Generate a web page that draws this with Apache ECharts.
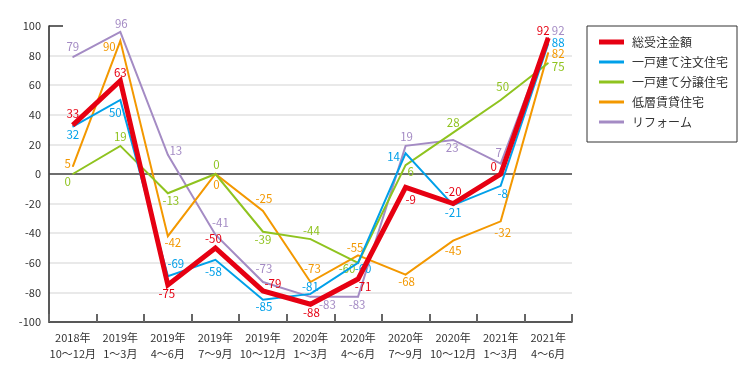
<!DOCTYPE html>
<html>
<head>
<meta charset="utf-8">
<script src="https://cdn.jsdelivr.net/npm/echarts@6/dist/echarts.min.js"></script>
<style>html,body{margin:0;padding:0;background:#fff;}#c{width:750px;height:380px;}</style>
</head>
<body>
<div id="c"></div>
<script>
const categories = ['2018年\n10〜12月','2019年\n1〜3月','2019年\n4〜6月','2019年\n7〜9月','2019年\n10〜12月','2020年\n1〜3月','2020年\n4〜6月','2020年\n7〜9月','2020年\n10〜12月','2021年\n1〜3月','2021年\n4〜6月'];
const seriesNames = ['総受注金額','一戸建て注文住宅','一戸建て分譲住宅','低層賃貸住宅','リフォーム'];
const total  = [33, 63, -75, -50, -79, -88, -71, -9, -20, 0, 92];
const custom = [32, 50, -69, -58, -85, -81, -60, 14, -21, -8, 88];
const spec   = [0, 19, -13, 0, -39, -44, -60, 6, 28, 50, 75];
const rental = [5, 90, -42, 0, -25, -73, -55, -68, -45, -32, 82];
const reform = [79, 96, 13, -41, -73, -83, -83, 19, 23, 7, 92];
const yTicks = {min: -100, max: 100, interval: 20};

// label placement (pixel offsets from each point) - layout only
const offTotal  = [[0,-12],[0,-8],[-1,9],[-2,-9],[10,-7],[1,8],[5,8],[5,12],[0,-12],[-7,-7],[-5,-7]];
const offCustom = [[0,8],[-5,13],[8,-12],[-2,12],[1,7],[0,-7],[5,6],[-12,3],[0,8],[2,8],[10,-1]];
const offSpec   = [[-5,8],[0,-9],[3,7],[1,-9],[0,8],[1,-8],[-11,6],[5,7],[0,-10],[2,-13],[10,4]];
const offRental = [[-5,-3],[-11,6],[5,6],[1,11],[1,-12],[2,-13],[-3,-8],[1,7],[0,10],[2,11],[10,1]];
const offReform = [[0,-10],[1,-8],[8,-4],[5,-12],[1,-13],[17,8],[-1,8],[1,-9],[-1,8],[-2,-11],[10,-7]];

const FONT = '"Noto Sans CJK JP", "Noto Sans", sans-serif';
const GRID = {left: 49, right: 178, top: 26, bottom: 58};
const COLORS = ['#e60012', '#00a0e9', '#8fc31f', '#f39800', '#a48bc4'];

function mk(name, values, offs, color, width, z) {
  return {
    name: name, type: 'line', symbol: 'circle', symbolSize: 1, showSymbol: true, z: z,
    lineStyle: {color: color, width: width, join: 'miter'},
    itemStyle: {color: color},
    emphasis: {disabled: true},
    data: values.map((v, i) => ({
      value: v,
      label: {show: true, position: 'inside', offset: offs[i], color: color,
        fontSize: 11.5, fontFamily: FONT, align: 'center', verticalAlign: 'middle'}
    }))
  };
}

const chart = echarts.init(document.getElementById('c'), null, {renderer: 'canvas'});
chart.setOption({
  animation: false,
  backgroundColor: '#fff',
  grid: GRID,
  legend: {
    data: [
      {name: seriesNames[0], icon: 'path://M0,0H25V5H0Z'},
      {name: seriesNames[1], icon: 'path://M0,0H25V3H0Z'},
      {name: seriesNames[2], icon: 'path://M0,0H25V3H0Z'},
      {name: seriesNames[3], icon: 'path://M0,0H25V3H0Z'},
      {name: seriesNames[4], icon: 'path://M0,0H25V3H0Z'}
    ],
    orient: 'vertical', left: 587, top: 26,
    padding: [10, 9, 14, 12],
    itemWidth: 25, itemHeight: 14, itemGap: 8,
    borderColor: '#333', borderWidth: 1,
    textStyle: {fontSize: 12, fontFamily: FONT, color: '#333', padding: [0,0,0,3]}
  },
  xAxis: {
    type: 'category', data: categories, boundaryGap: true,
    axisLine: {show: true, onZero: false, lineStyle: {color: '#222', width: 1.5}},
    axisTick: {show: true, inside: true, length: 8, lineStyle: {color: '#666', width: 2}},
    axisLabel: {fontSize: 11, fontFamily: FONT, color: '#333', lineHeight: 16, margin: 8, interval: 0},
    splitLine: {show: false}
  },
  yAxis: {
    type: 'value', min: yTicks.min, max: yTicks.max, interval: yTicks.interval,
    axisLine: {show: true, lineStyle: {color: '#222', width: 1.5}},
    axisTick: {show: false},
    axisLabel: {fontSize: 11, fontFamily: FONT, color: '#333', margin: 8},
    splitLine: {show: true, lineStyle: {width: 1.5,
      color: ['transparent','#e2e2e2','#e2e2e2','#e2e2e2','#e2e2e2','#e2e2e2','#e2e2e2','#e2e2e2','#e2e2e2','#e2e2e2','transparent']}}
  },
  graphic: [{
    type: 'line', z: 100,
    shape: {x1: GRID.left, y1: GRID.top, x2: GRID.left + 14, y2: GRID.top},
    style: {stroke: '#333', lineWidth: 1.5}
  }],
  series: [
    Object.assign(mk(seriesNames[4], reform, offReform, COLORS[4], 2, 2), {
      markLine: {silent: true, symbol: 'none', label: {show: false},
        lineStyle: {color: '#444', width: 1.5, type: 'solid'}, data: [{yAxis: 0}], z: 1}
    }),
    mk(seriesNames[3], rental, offRental, COLORS[3], 2, 3),
    mk(seriesNames[2], spec, offSpec, COLORS[2], 2, 4),
    mk(seriesNames[1], custom, offCustom, COLORS[1], 2, 5),
    mk(seriesNames[0], total, offTotal, COLORS[0], 5, 6)
  ]
});
</script>
</body>
</html>
